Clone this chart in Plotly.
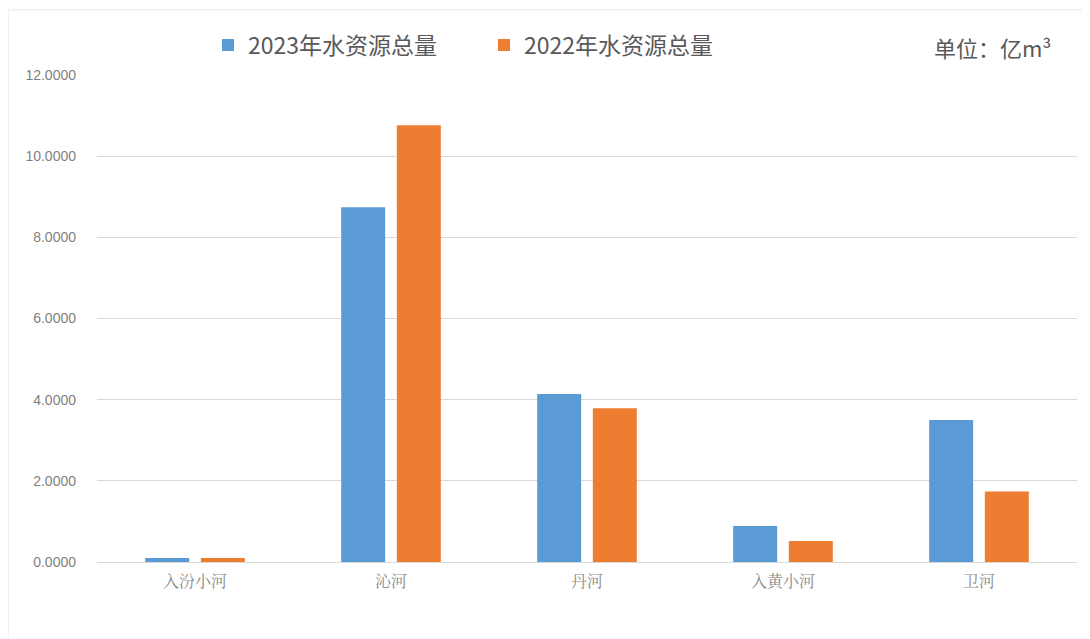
import plotly.graph_objects as go

categories = ["入汾小河", "沁河", "丹河", "入黄小河", "卫河"]
values_2023 = [0.10, 8.74, 4.14, 0.89, 3.50]
values_2022 = [0.10, 10.76, 3.79, 0.52, 1.74]
series_names = ["2023年水资源总量", "2022年水资源总量"]
y_ticks = [0, 2, 4, 6, 8, 10, 12]
y_tick_labels = [f"{v:.4f}" for v in y_ticks]

fig = go.Figure()
fig.add_trace(go.Bar(x=categories, y=values_2023, name=series_names[0],
                     marker=dict(color="#5B9BD5", line=dict(width=0))))
fig.add_trace(go.Bar(x=categories, y=values_2022, name=series_names[1],
                     marker=dict(color="#ED7D31", line=dict(width=0))))

W, H = 1082, 631
L, R, T, B = 89, 13, 67, 77
PW, PH = W - L - R, H - T - B

fig.update_layout(
    width=W, height=H,
    paper_bgcolor="white", plot_bgcolor="white",
    margin=dict(l=L, r=R, t=T, b=B),
    barmode="group", bargap=0.432, bargroupgap=0.21,
    font=dict(family="Noto Sans CJK SC", color="#595959"),
    legend=dict(orientation="h", x=(200 - L) / PW, y=1 + (T - 37) / PH,
                xanchor="left", yanchor="middle",
                font=dict(size=23, color="#595959"), itemwidth=30,
                entrywidth=231, entrywidthmode="pixels",
                traceorder="normal"),
    xaxis=dict(showline=True, linecolor="#d9d9d9", linewidth=1, ticks="",
               tickfont=dict(size=16, color="#8c8c8c", family="Noto Serif CJK SC, serif"),
               ticklabelstandoff=5),
    yaxis=dict(range=[0, 12], tickvals=y_ticks, ticktext=y_tick_labels,
               showgrid=True, gridcolor="#d9d9d9", gridwidth=1, zeroline=False,
               tickfont=dict(size=14, color="#7f7f7f", family="Liberation Sans"),
               ticklabelstandoff=20),
    showlegend=True,
)

fig.add_annotation(text="单位：亿m³", xref="paper", yref="paper",
                   x=(1045 - L) / PW, y=1 + (T - 39) / PH,
                   xanchor="right", yanchor="middle", showarrow=False,
                   font=dict(size=22, color="#595959", family="Noto Sans CJK SC"))

fig.add_shape(type="rect", xref="paper", yref="paper",
              x0=-L / PW, x1=1.0 + (R + 20) / PW, y0=-(B + 20) / PH, y1=1.0 + (T - 2) / PH,
              line=dict(color="#e6e6e6", width=1), fillcolor="rgba(0,0,0,0)", layer="below")

fig.write_html("out.html")
